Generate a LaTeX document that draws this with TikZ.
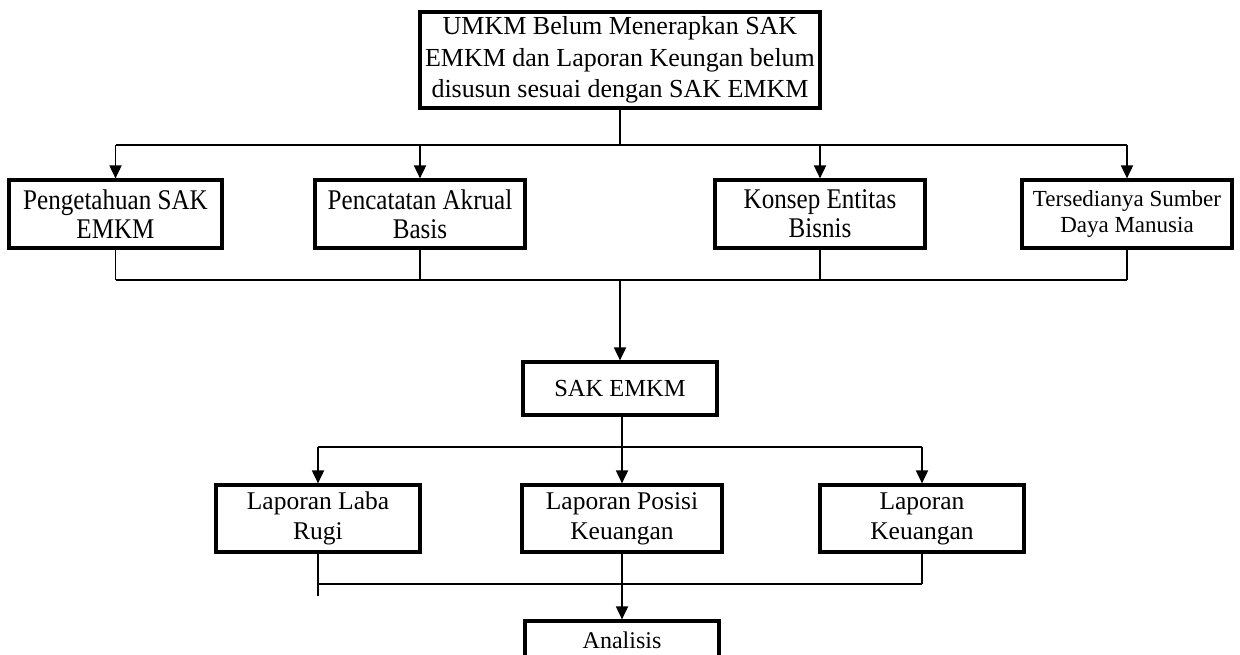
\documentclass[tikz,border=0pt]{standalone}
\usepackage{fontspec}
\setmainfont{Liberation Serif}
\newfontfamily\condfont[FakeStretch=0.88]{Liberation Serif}
\usetikzlibrary{arrows.meta}
\begin{document}
\begin{tikzpicture}[x=1pt,y=-1pt,
  box/.style={draw,line width=3.2pt,inner sep=0pt,align=center,anchor=center},
  conn/.style={line width=1.8pt},
  arr/.style={conn,-{Triangle[length=13pt,width=12pt]}},
  big/.style={font=\fontsize{26}{31.5}\selectfont},
  cond/.style={font=\condfont\fontsize{28.5}{29}\selectfont},
  mid/.style={font=\fontsize{25.5}{30}\selectfont}]
\useasboundingbox (0,0) rectangle (1240,654);
\clip (0,0) rectangle (1240,654);
% nodes
\node[box,big,minimum width=400pt,minimum height=96pt] (top) at (620,60)
  {UMKM Belum Menerapkan SAK\\EMKM dan Laporan Keungan belum\\disusun sesuai dengan SAK EMKM};
\node[box,cond,minimum width=213pt,minimum height=68pt] (a) at (115.5,214) {Pengetahuan SAK\\EMKM};
\node[box,cond,minimum width=210pt,minimum height=68pt] (b) at (420,214) {Pencatatan Akrual\\Basis};
\node[box,cond,minimum width=210pt,minimum height=68pt] (c) at (820,214) {Konsep Entitas\\Bisnis};
\node[box,font=\fontsize{23}{26}\selectfont,minimum width=210pt,minimum height=68pt] (d) at (1127,214) {Tersedianya Sumber\\Daya Manusia};
\node[box,font=\fontsize{24.5}{30}\selectfont,minimum width=194pt,minimum height=53pt] (sak) at (620,388.5) {SAK EMKM};
\node[box,mid,minimum width=204pt,minimum height=67pt] (l1) at (318,518.5) {Laporan Laba\\Rugi};
\node[box,mid,minimum width=200pt,minimum height=67pt] (l2) at (622,518.5) {Laporan Posisi\\Keuangan};
\node[box,mid,minimum width=204pt,minimum height=67pt] (l3) at (922,518.5) {Laporan\\Keuangan};
\node[box,minimum width=194pt,minimum height=60pt] (an) at (622,651) {};
\node[font=\fontsize{24}{30}\selectfont,anchor=base,inner sep=0pt] (antext) at (622,648) {Analisis};
% bus 1
\coordinate (j1) at (620,145);
\draw[conn] (top.south -| j1) -- (j1);
\draw[conn] (j1 -| a) -- (j1 -| d);
\foreach \n in {a,b,c,d} \draw[arr] (j1 -| \n) -- (\n.north);
% bus 2
\coordinate (j2) at (620,280);
\draw[conn] (j2 -| a) -- (j2 -| d);
\foreach \n in {a,b,c,d} \draw[conn] (\n.south) -- (j2 -| \n);
\draw[arr] (j2) -- (j2 |- sak.north);
% bus 3
\coordinate (j3) at (622,447);
\draw[conn] (sak.south -| j3) -- (j3);
\draw[conn] (j3 -| l1) -- (j3 -| l3);
\foreach \n in {l1,l2,l3} \draw[arr] (j3 -| \n) -- (\n.north);
% bus 4
\coordinate (j4) at (622,584);
\draw[conn] (j4 -| l1) -- (j4 -| l3);
\draw[conn] (l1.south) -- ++(0,42);
\draw[conn] (l3.south) -- (j4 -| l3);
\draw[arr] (l2.south) -- (an.north);
\end{tikzpicture}
\end{document}
